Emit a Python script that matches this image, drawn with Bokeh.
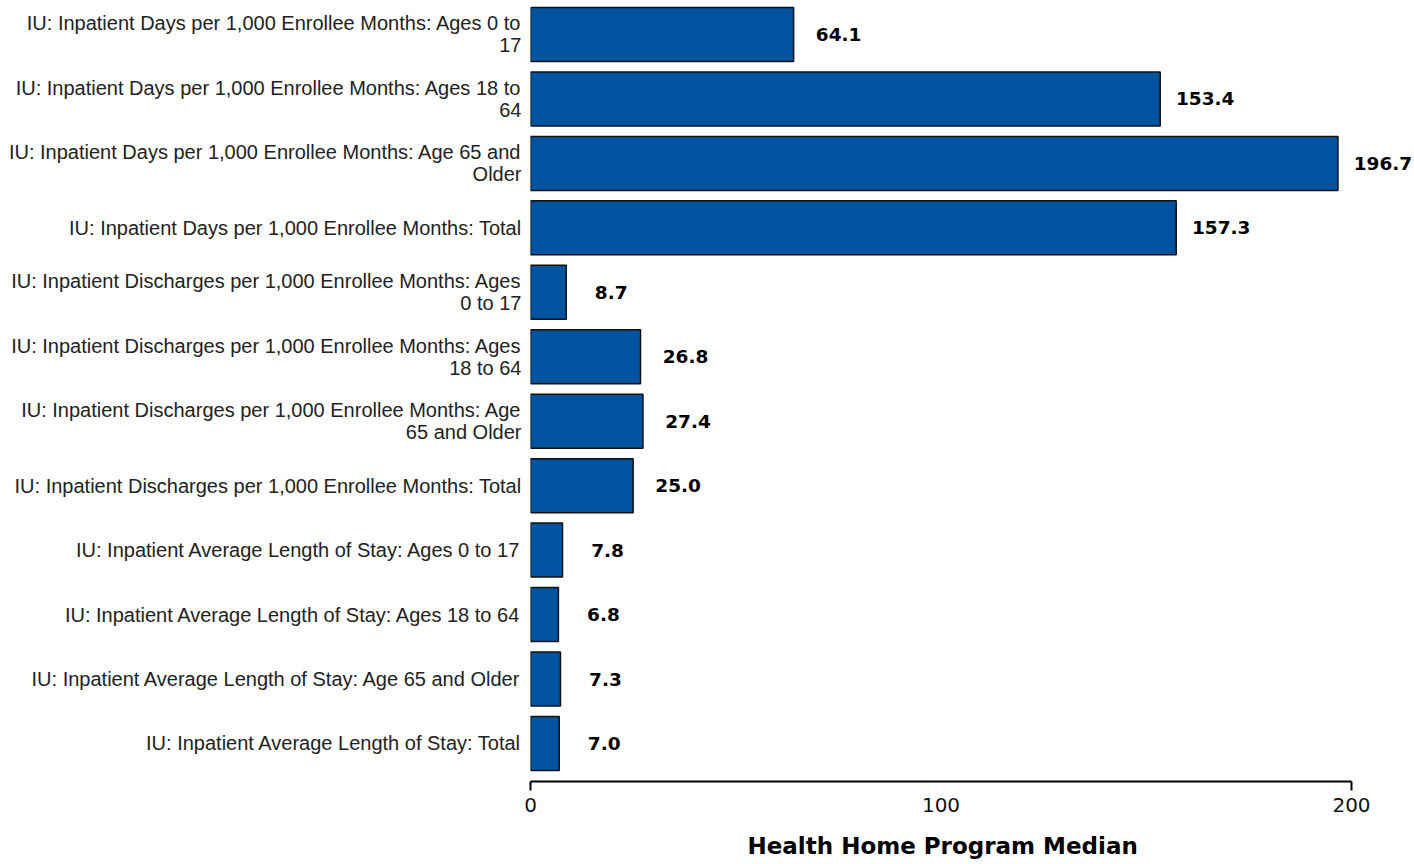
from bokeh.plotting import figure
from bokeh.models import ColumnDataSource, LabelSet, Title, LinearAxis, FixedTicker, Range1d
from bokeh.core.properties import value
from bokeh.embed import file_html
from bokeh.resources import INLINE

categories = [
    "IU: Inpatient Days per 1,000 Enrollee Months: Ages 0 to\n17",
    "IU: Inpatient Days per 1,000 Enrollee Months: Ages 18 to\n64",
    "IU: Inpatient Days per 1,000 Enrollee Months: Age 65 and\nOlder",
    "IU: Inpatient Days per 1,000 Enrollee Months: Total",
    "IU: Inpatient Discharges per 1,000 Enrollee Months: Ages\n0 to 17",
    "IU: Inpatient Discharges per 1,000 Enrollee Months: Ages\n18 to 64",
    "IU: Inpatient Discharges per 1,000 Enrollee Months: Age\n65 and Older",
    "IU: Inpatient Discharges per 1,000 Enrollee Months: Total",
    "IU: Inpatient Average Length of Stay: Ages 0 to 17",
    "IU: Inpatient Average Length of Stay: Ages 18 to 64",
    "IU: Inpatient Average Length of Stay: Age 65 and Older",
    "IU: Inpatient Average Length of Stay: Total",
]
values = [64.1, 153.4, 196.7, 157.3, 8.7, 26.8, 27.4, 25.0, 7.8, 6.8, 7.3, 7.0]
x_ticks = [0, 100, 200]
x_title = "Health Home Program Median"

idx = list(range(len(categories)))
src = ColumnDataSource(dict(
    y=idx,
    v=values,
    lab=[f"{v:.1f}" for v in values],
))

# frame spans to the right edge so value labels are not clipped;
# the axis itself is bounded to 0..200
x_end = x_ticks[-1] * (1414 - 530) / (1351 - 530)

p = figure(width=1414, height=864, output_backend="svg", toolbar_location=None,
           x_range=Range1d(0, x_end), y_range=Range1d(11.59, -0.5275),
           min_border_left=530, min_border_right=0, min_border_top=0,
           min_border_bottom=83)
p.outline_line_color = None
p.grid.visible = False
p.background_fill_color = "white"
p.border_fill_color = "white"

p.hbar(y="y", right="v", left=0, height=0.838, source=src,
       fill_color="#00549F", line_color="#111111", line_width=1.5)

labels = LabelSet(x="v", y="y", text="lab", source=src, x_offset=45,
                  text_align="center", text_baseline="middle",
                  text_font=value("DejaVu Sans"), text_font_style="bold",
                  text_font_size="18.5px", text_color="black")
p.add_layout(labels)

# y axis with category labels
yax = p.yaxis[0]
yax.ticker = FixedTicker(ticks=idx)
yax.major_label_overrides = {i: c for i, c in zip(idx, categories)}
yax.axis_line_color = None
yax.major_tick_line_color = None
yax.minor_tick_line_color = None
yax.major_label_standoff = 3
yax.major_label_text_font = "Liberation Sans"
yax.major_label_text_font_size = "20px"
yax.major_label_text_line_height = 1.0
yax.major_label_text_color = "#222222"

# x axis line with end ticks only
xax = p.xaxis[0]
xax.bounds = (x_ticks[0], x_ticks[-1])
xax.ticker = FixedTicker(ticks=[x_ticks[0], x_ticks[-1]])
xax.major_label_overrides = {x_ticks[0]: "", x_ticks[-1]: ""}
xax.major_label_text_font_size = "0px"
xax.major_label_standoff = 0
xax.axis_line_color = "black"
xax.axis_line_width = 2
xax.major_tick_line_color = "black"
xax.major_tick_line_width = 2
xax.major_tick_out = 9
xax.major_tick_in = 0
xax.minor_tick_line_color = None

# second axis: tick labels
xax2 = LinearAxis(ticker=FixedTicker(ticks=x_ticks), bounds=(x_ticks[0], x_ticks[-1]))
xax2.axis_line_color = None
xax2.major_tick_line_color = None
xax2.minor_tick_line_color = None
xax2.major_tick_out = 0
xax2.major_tick_in = 0
xax2.major_label_standoff = 7
xax2.major_label_text_font = "DejaVu Sans"
xax2.major_label_text_font_size = "20px"
xax2.major_label_text_color = "#111111"
p.add_layout(xax2, "below")

# invisible spacer axis between tick labels and title
spacer = LinearAxis(ticker=FixedTicker(ticks=[x_ticks[0]]), bounds=(x_ticks[0], x_ticks[-1]))
spacer.major_label_overrides = {x_ticks[0]: ""}
spacer.major_label_text_font_size = "0px"
spacer.axis_line_color = None
spacer.major_tick_line_color = None
spacer.minor_tick_line_color = None
spacer.major_tick_out = 15
spacer.major_tick_in = 0
spacer.major_label_standoff = 0
p.add_layout(spacer, "below")

# axis title, placed under the middle of the 0..200 axis
title = Title(text=x_title, align="left", offset=217, standoff=2,
              vertical_align="bottom",
              text_font="DejaVu Sans", text_font_style="bold",
              text_font_size="23px", text_color="black")
p.add_layout(title, "below")

open("out.html", "w").write(file_html(p, INLINE))
